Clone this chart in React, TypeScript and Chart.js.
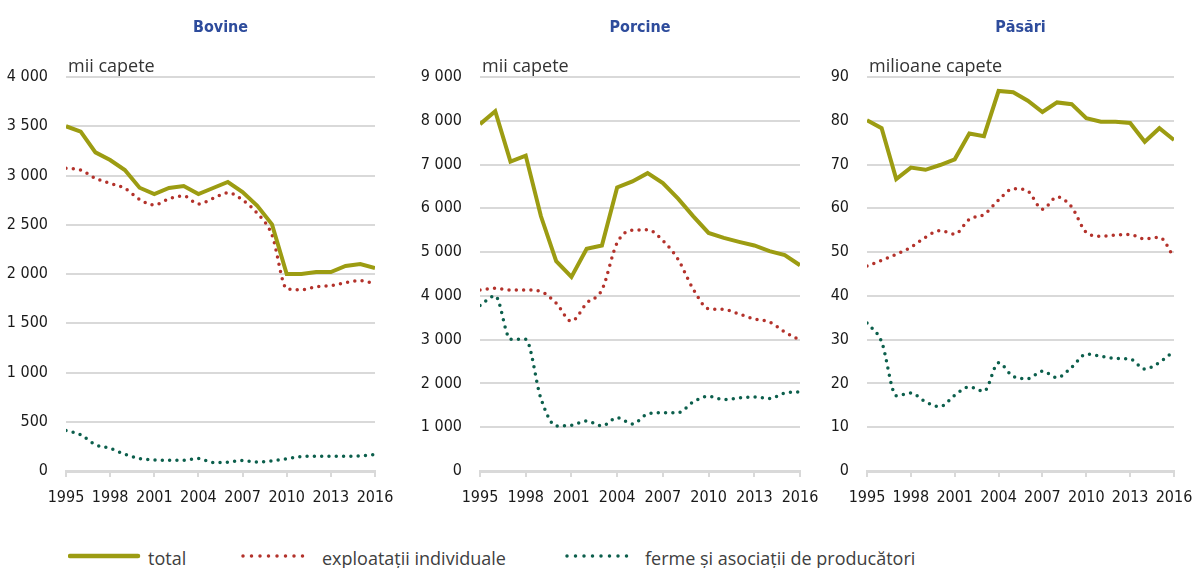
import React, { useEffect, useRef } from "react";
import { Chart, registerables } from "chart.js";

Chart.register(...registerables);

const years = [1995, 1996, 1997, 1998, 1999, 2000, 2001, 2002, 2003, 2004, 2005, 2006, 2007, 2008, 2009, 2010, 2011, 2012, 2013, 2014, 2015, 2016];

const bovineTotal = [3500, 3445, 3235, 3157, 3056, 2876, 2812, 2873, 2893, 2812, 2873, 2934, 2832, 2693, 2504, 2000, 2000, 2020, 2020, 2081, 2101, 2061];
const bovineIndiv = [3073, 3056, 2971, 2920, 2870, 2758, 2700, 2764, 2792, 2711, 2768, 2825, 2751, 2616, 2396, 1850, 1840, 1871, 1881, 1912, 1932, 1901];
const bovineFarms = [410, 367, 267, 230, 170, 127, 113, 110, 110, 127, 87, 90, 107, 90, 103, 123, 147, 150, 150, 150, 153, 167];

const porcineTotal = [7924, 8220, 7068, 7205, 5818, 4795, 4432, 5076, 5152, 6477, 6614, 6803, 6576, 6220, 5818, 5439, 5326, 5235, 5152, 5023, 4932, 4700];
const porcineIndiv = [4135, 4173, 4135, 4135, 4098, 3835, 3421, 3835, 4135, 5212, 5500, 5508, 5265, 4833, 4150, 3707, 3692, 3586, 3474, 3406, 3173, 2990];
const porcineFarms = [3782, 4000, 3008, 3008, 1654, 1030, 1045, 1143, 1030, 1218, 1075, 1300, 1331, 1331, 1579, 1707, 1632, 1669, 1692, 1654, 1782, 1805];

const pasariTotal = [80.1, 78.3, 66.7, 69.3, 68.8, 69.9, 71.2, 77.1, 76.5, 86.8, 86.5, 84.6, 82.0, 84.2, 83.8, 80.6, 79.8, 79.8, 79.5, 75.2, 78.3, 75.6];
const pasariIndiv = [46.8, 48.1, 49.5, 51.1, 53.4, 54.9, 54.1, 57.5, 58.6, 61.9, 64.5, 63.9, 59.8, 62.6, 60.3, 54.5, 53.6, 53.9, 54.0, 53.0, 53.4, 48.8];
const pasariFarms = [33.8, 29.5, 17.2, 17.8, 15.8, 14.7, 17.3, 19.2, 18.2, 24.7, 21.6, 21.1, 22.8, 21.3, 23.7, 26.7, 26.2, 25.7, 25.6, 23.3, 24.8, 27.4];

const panelTitles = ["Bovine", "Porcine", "Păsări"];
const unitLabels = ["mii capete", "mii capete", "milioane capete"];
const yMax = [4000, 9000, 90];
const yStep = [500, 1000, 10];
const seriesNames = ["total", "exploatații individuale", "ferme și asociații de producători"];

const OLIVE = "#9c9c12";
const RED = "#b3322b";
const GREEN = "#0c5f4c";
const GRID = "#d9d9d9";
const NARROW = "'DejaVu Sans Condensed', 'Open Sans', sans-serif";
const TEXT_FONT = "'Open Sans', 'Noto Sans', sans-serif";

function fmt(v: number): string {
  return String(v).replace(/\B(?=(\d{3})+(?!\d))/g, " ");
}

type PanelProps = {
  idx: number;
  left: number;
  width: number;
  yWidth: number;
  padRight: number;
  total: number[];
  indiv: number[];
  farms: number[];
};

function Panel({ idx, left, width, yWidth, padRight, total, indiv, farms }: PanelProps) {
  const ref = useRef<HTMLCanvasElement | null>(null);
  useEffect(() => {
    if (!ref.current) return;
    const toXY = (arr: number[]) => arr.map((v, i) => ({ x: years[i], y: v }));
    const dotted = (color: string) => ({
      borderColor: color,
      backgroundColor: color,
      borderWidth: 3.5,
      borderDash: [0, 7.3],
      borderCapStyle: "round" as const,
      pointRadius: 0,
      cubicInterpolationMode: "monotone" as const,
      fill: false,
    });
    const textPlugin = {
      id: "panelText" + idx,
      afterDraw(chart: any) {
        const { ctx, chartArea } = chart;
        ctx.save();
        ctx.font = "bold 16px " + NARROW;
        ctx.fillStyle = "#2e4c9c";
        ctx.textAlign = "center";
        ctx.textBaseline = "middle";
        ctx.fillText(panelTitles[idx], (chartArea.left + chartArea.right) / 2, 28);
        ctx.font = "18px " + TEXT_FONT;
        ctx.fillStyle = "#333333";
        ctx.textAlign = "left";
        ctx.textBaseline = "alphabetic";
        ctx.fillText(unitLabels[idx], chartArea.left + 2, 72);
        ctx.restore();
      },
    };
    const chart = new Chart(ref.current, {
      type: "line",
      data: {
        datasets: [
          {
            label: seriesNames[0],
            data: toXY(total),
            borderColor: OLIVE,
            backgroundColor: OLIVE,
            borderWidth: 4,
            pointRadius: 0,
            tension: 0,
            fill: false,
          },
          { label: seriesNames[1], data: toXY(indiv), ...dotted(RED) },
          { label: seriesNames[2], data: toXY(farms), ...dotted(GREEN) },
        ],
      },
      options: {
        animation: false,
        responsive: false,
        devicePixelRatio: 1,
        layout: { padding: { left: 0, right: padRight, top: 77, bottom: 14 } },
        plugins: { legend: { display: false }, tooltip: { enabled: false } },
        scales: {
          x: {
            type: "linear",
            min: 1995,
            max: 2016,
            afterFit: (s: any) => {
              s.height = 35;
            },
            ticks: {
              stepSize: 3,
              autoSkip: false,
              maxRotation: 0,
              padding: 11,
              color: "#1a1a1a",
              font: { family: NARROW, size: 16 },
              callback: (v: any) => String(v),
            },
            grid: { display: true, drawOnChartArea: false, drawTicks: true, tickLength: 6, color: GRID, lineWidth: 2 },
            border: { display: true, color: GRID, width: 3 },
          },
          y: {
            min: 0,
            max: yMax[idx],
            afterFit: (s: any) => {
              s.width = yWidth;
            },
            ticks: {
              stepSize: yStep[idx],
              padding: 18,
              color: "#1a1a1a",
              font: { family: NARROW, size: 16 },
              callback: (v: any) => fmt(Number(v)),
            },
            grid: { color: GRID, lineWidth: 2, drawTicks: false },
            border: { display: false },
          },
        },
      },
      plugins: [textPlugin],
    } as any);
    return () => chart.destroy();
  }, []);
  return (
    <canvas
      ref={ref}
      width={width}
      height={520}
      style={{ position: "absolute", left, top: 0, width, height: 520 }}
    />
  );
}

function LegendLine({ left, color, dotted }: { left: number; color: string; dotted: boolean }) {
  return (
    <svg style={{ position: "absolute", left, top: 550 }} width={74} height={12}>
      <line
        x1={2}
        y1={6}
        x2={70}
        y2={6}
        stroke={color}
        strokeWidth={dotted ? 3.5 : 4.5}
        strokeLinecap="round"
        strokeDasharray={dotted ? "0 8.5" : undefined}
      />
    </svg>
  );
}

function LegendText({ left, text }: { left: number; text: string }) {
  return (
    <span
      style={{
        position: "absolute",
        left,
        top: 549,
        fontFamily: TEXT_FONT,
        fontSize: 18,
        lineHeight: "18px",
        color: "#404040",
        whiteSpace: "nowrap",
      }}
    >
      {text}
    </span>
  );
}

export default function App() {
  return (
    <div style={{ position: "fixed", left: 0, top: 0, width: 1197, height: 568, background: "#ffffff", overflow: "hidden" }}>
      <Panel idx={0} left={0} width={407} yWidth={66} padRight={32} total={bovineTotal} indiv={bovineIndiv} farms={bovineFarms} />
      <Panel idx={1} left={395} width={437} yWidth={85} padRight={32} total={porcineTotal} indiv={porcineIndiv} farms={porcineFarms} />
      <Panel idx={2} left={820} width={386} yWidth={47} padRight={32} total={pasariTotal} indiv={pasariIndiv} farms={pasariFarms} />
      <LegendLine left={68} color={OLIVE} dotted={false} />
      <LegendText left={148} text={seriesNames[0]} />
      <LegendLine left={241} color={RED} dotted={true} />
      <LegendText left={322} text={seriesNames[1]} />
      <LegendLine left={565} color={GREEN} dotted={true} />
      <LegendText left={645} text={seriesNames[2]} />
    </div>
  );
}
